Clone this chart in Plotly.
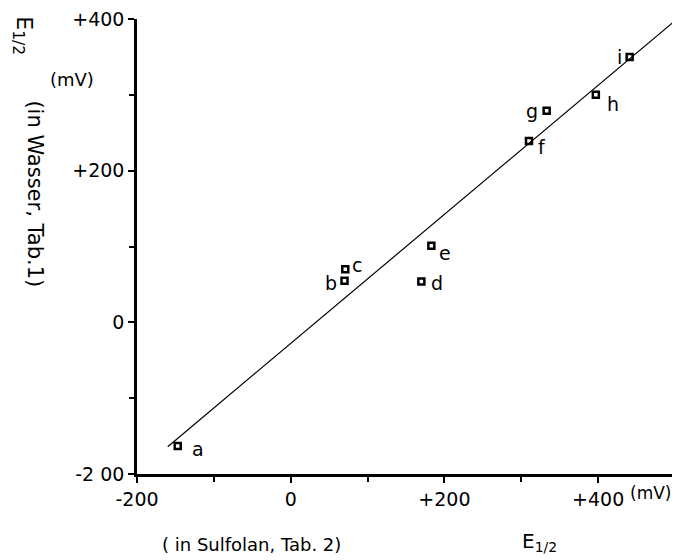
import plotly.graph_objects as go

# Data
labels = ["a", "b", "c", "d", "e", "f", "g", "h", "i"]
x_sulfolan = [-147, 70, 71, 170, 183, 310, 333, 397, 441]
y_wasser = [-163, 55, 70, 54, 101, 239, 279, 300, 350]
line_x = [-160, 498]
line_y = [-164, 396]
x_tickvals = [-200, 0, 200, 400]
x_ticktext = ["-200", "0", "+200", "+400"]
y_tickvals = [-200, 0, 200, 400]
y_ticktext = ["-2 00", "0", "+200", "+400"]

# label offsets (pixels) for point labels
lab_dx = [20, -14, 12, 16, 14, 13, -15, 17, -10]
lab_dy = [-3, -2, 4, -2, -7, -6, 0, -9, 0]

FONT = "DejaVu Sans"
fig = go.Figure()
fig.add_trace(go.Scatter(x=line_x, y=line_y, mode="lines",
                         line=dict(color="black", width=1.2), hoverinfo="skip"))
fig.add_trace(go.Scatter(x=x_sulfolan, y=y_wasser, mode="markers",
                         marker=dict(symbol="square-open", size=6, color="black",
                                     line=dict(width=2.5, color="black"))))

for lab, x, y, dx, dy in zip(labels, x_sulfolan, y_wasser, lab_dx, lab_dy):
    fig.add_annotation(x=x, y=y, xref="x", yref="y", text=lab, showarrow=False,
                       xshift=dx, yshift=dy, font=dict(family=FONT, size=19, color="black"))

axis_common = dict(showgrid=False, zeroline=False, showline=True, linecolor="black",
                   linewidth=2.5, ticks="outside", ticklen=6, tickwidth=2,
                   tickcolor="black", tickfont=dict(family=FONT, size=19, color="black"),
                   ticklabeloverflow="allow", automargin=False,
                   minor=dict(ticks="outside", ticklen=5, tickwidth=1.5, tickcolor="black", dtick=100))

fig.update_xaxes(range=[-200, 500], tickmode="array", tickvals=x_tickvals,
                 ticktext=x_ticktext, **axis_common)
fig.update_yaxes(range=[-200, 400], tickmode="array", tickvals=y_tickvals,
                 ticktext=y_ticktext, **axis_common)

# axis captions
fig.add_annotation(xref="paper", yref="paper", x=-0.212, y=0.962, text="E<sub>1/2</sub>",
                   textangle=90, showarrow=False, xanchor="center", yanchor="middle",
                   font=dict(family=FONT, size=22, color="black"))
fig.add_annotation(xref="paper", yref="paper", x=-0.19, y=0.615, text="(in Wasser, Tab.1)",
                   textangle=90, showarrow=False, xanchor="center", yanchor="middle",
                   font=dict(family=FONT, size=21, color="black"))
fig.add_annotation(xref="paper", yref="paper", x=-0.121, y=0.866, text="(mV)",
                   showarrow=False, xanchor="center", yanchor="middle",
                   font=dict(family=FONT, size=18, color="black"))
fig.add_annotation(xref="paper", yref="paper", x=0.212, y=-0.155, text="( in Sulfolan, Tab. 2)",
                   showarrow=False, xanchor="center", yanchor="middle",
                   font=dict(family=FONT, size=18, color="black"))
fig.add_annotation(xref="paper", yref="paper", x=0.749, y=-0.150, text="E<sub>1/2</sub>",
                   showarrow=False, xanchor="center", yanchor="middle",
                   font=dict(family=FONT, size=20, color="black"))
fig.add_annotation(xref="paper", yref="paper", x=0.997, y=-0.041, text="(mV)",
                   showarrow=False, xanchor="right", yanchor="middle",
                   font=dict(family=FONT, size=17, color="black"))

# the page body adds an 8px margin; margins compensate so the plot sits where the reference has it
fig.update_layout(width=680, height=560, showlegend=False,
                  plot_bgcolor="white", paper_bgcolor="white",
                  margin=dict(l=129, r=13, t=11, b=94))
fig.write_html("out.html")
